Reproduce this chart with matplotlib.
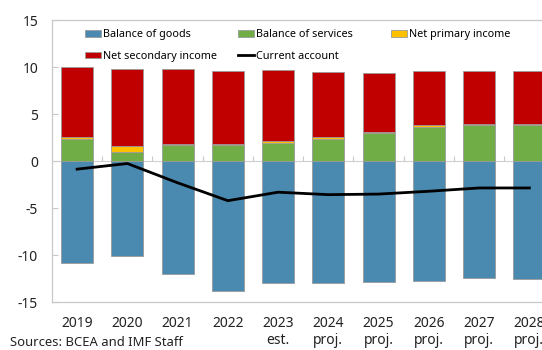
import numpy as np
import matplotlib.pyplot as plt

# values (% of GDP)
years = ['2019', '2020', '2021', '2022', '2023\nest.', '2024\nproj.',
         '2025\nproj.', '2026\nproj.', '2027\nproj.', '2028\nproj.']
goods = [-10.85, -10.1, -12.0, -13.8, -13.0, -13.0, -12.85, -12.75, -12.4, -12.5]
services = [2.35, 0.98, 1.7, 1.7, 1.97, 2.4, 2.95, 3.6, 3.8, 3.83]
primary = [0.25, 0.64, 0.13, 0.13, 0.17, 0.2, 0.15, 0.27, 0.2, 0.17]
secondary = [7.43, 8.16, 7.92, 7.7, 7.53, 6.83, 6.3, 5.66, 5.53, 5.55]
current = [-0.85, -0.25, -2.3, -4.2, -3.3, -3.56, -3.5, -3.2, -2.85, -2.85]

plt.rcParams['font.family'] = ['Noto Sans', 'DejaVu Sans']

W, H = 542, 350
fig = plt.figure(figsize=(W / 100, H / 100), dpi=100)
# plot area runs past the right edge, as in the reference
ax = fig.add_axes([52 / W, 47.7 / H, 527.6 / W, 282.3 / H])

x = np.arange(len(years))
bw = 0.64
ec = '#9a9a9a'
lw = 0.6
pos1 = np.array(services)
pos2 = pos1 + np.array(primary)
b1 = ax.bar(x, goods, bw, color='#4A89B0', edgecolor=ec, linewidth=lw, zorder=2)
b2 = ax.bar(x, services, bw, color='#70AD47', edgecolor=ec, linewidth=lw, zorder=2)
b3 = ax.bar(x, primary, bw, bottom=pos1, color='#FFC000', edgecolor=ec, linewidth=lw, zorder=2)
b4 = ax.bar(x, secondary, bw, bottom=pos2, color='#C00000', edgecolor=ec, linewidth=lw, zorder=2)
ln, = ax.plot(x, current, color='black', linewidth=2, zorder=3)

ax.axhline(0, color='#d0d0d0', linewidth=0.8, zorder=1)
ax.vlines(x[:-1] + 0.5, 0, 0.5, color='#c8c8c8', linewidth=0.8, zorder=1)

ax.set_xlim(-0.5, 10.0)
ax.set_ylim(-15, 15)
ax.set_yticks([-15, -10, -5, 0, 5, 10, 15])
ax.set_yticklabels(['-15', '-10', '-5', '0', '5', '10', '15'])
ax.set_xticks(x)
ax.set_xticklabels(years, linespacing=1.12)
ax.tick_params(axis='both', labelsize=10, labelcolor='#222222')
ax.tick_params(axis='x', length=0, pad=10)
ax.tick_params(axis='y', direction='in', length=4, width=0.8, color='#c8c8c8', pad=10)
for s in ax.spines.values():
    s.set_color('#c8c8c8')
    s.set_linewidth(0.9)

# legend: three columns placed like the reference
lkw = dict(frameon=False, fontsize=7.8, handlelength=1.45, handleheight=0.6,
           handletextpad=0.2, labelspacing=1.0, borderpad=0, borderaxespad=0,
           loc='upper left')
cols = [([b1, b4], ['Balance of goods', 'Net secondary income'], 85),
        ([b2, ln], ['Balance of services', 'Current account'], 238),
        ([b3], ['Net primary income'], 391)]
for handles, labels, px in cols:
    fig.legend(handles, labels, bbox_to_anchor=(px / W, 1 - 29 / H), **lkw)

fig.text(10 / W, 1 - 342 / H, 'Sources: BCEA and IMF Staff', fontsize=9.4,
         va='center', ha='left', color='#222222')

fig.savefig('out.png', dpi=100)
